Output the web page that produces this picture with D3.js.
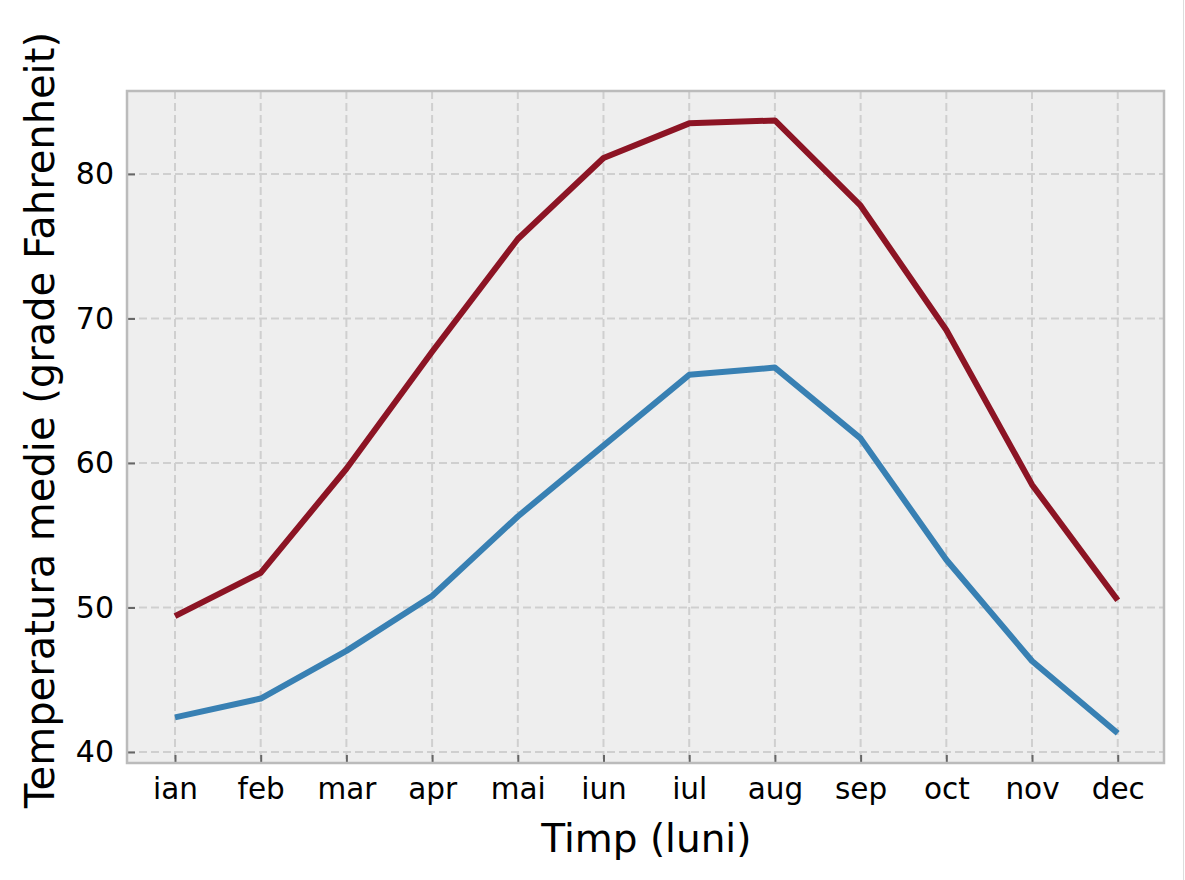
<!DOCTYPE html>
<html>
<head>
<meta charset="utf-8">
<script src="https://cdn.jsdelivr.net/npm/d3@7"></script>
<style>
  body { margin: 0; background: #fff; }
  svg { display: block; font-family: 'DejaVu Sans', sans-serif; }
</style>
</head>
<body>
<svg width="1185" height="880"></svg>
<script>
const MONTHS = ['ian', 'feb', 'mar', 'apr', 'mai', 'iun', 'iul', 'aug', 'sep', 'oct', 'nov', 'dec'];
const HIGH_TEMPS = [49.4, 52.4, 59.6, 67.7, 75.5, 81.1, 83.5, 83.7, 77.8, 69.2, 58.5, 50.5];
const LOW_TEMPS = [42.4, 43.7, 47.0, 50.8, 56.3, 61.2, 66.1, 66.6, 61.7, 53.3, 46.3, 41.3];
const Y_TICKS = [40, 50, 60, 70, 80];

const svg = d3.select('svg');
const margin = { top: 91, right: 21, bottom: 117, left: 127 };
const width = +svg.attr('width') - margin.left - margin.right;
const height = +svg.attr('height') - margin.top - margin.bottom;
const g = svg.append('g').attr('transform', `translate(${margin.left},${margin.top})`);

const x = d3.scaleLinear()
    .domain([-0.56, MONTHS.length - 1 + 0.54])
    .range([0, width]);

const y = d3.scaleLinear()
    .domain([39.24, 85.74])
    .range([height, 0]);

// plot background
g.append('rect')
    .attr('width', width)
    .attr('height', height)
    .attr('fill', '#eeeeee');

// grid
g.append('g')
  .selectAll('line')
  .data(MONTHS.map((d, i) => i))
  .enter().append('line')
    .attr('x1', d => x(d)).attr('x2', d => x(d))
    .attr('y1', 0).attr('y2', height)
    .attr('stroke', '#cfcfcf')
    .attr('stroke-width', 2)
    .attr('stroke-dasharray', '8,4');

g.append('g')
  .selectAll('line')
  .data(Y_TICKS)
  .enter().append('line')
    .attr('x1', 0).attr('x2', width)
    .attr('y1', d => y(d)).attr('y2', d => y(d))
    .attr('stroke', '#cfcfcf')
    .attr('stroke-width', 2)
    .attr('stroke-dasharray', '8,4');

// lines
const line = d3.line()
    .x((d, i) => x(i))
    .y(d => y(d));

g.append('path')
    .datum(HIGH_TEMPS)
    .attr('fill', 'none')
    .attr('stroke', '#8c1424')
    .attr('stroke-width', 6)
    .attr('stroke-linejoin', 'round')
    .attr('d', line);

g.append('path')
    .datum(LOW_TEMPS)
    .attr('fill', 'none')
    .attr('stroke', '#3880b3')
    .attr('stroke-width', 6)
    .attr('stroke-linejoin', 'round')
    .attr('d', line);

// x axis (ticks inside)
const xAxis = g.append('g')
    .attr('transform', `translate(0,${height})`)
    .call(d3.axisBottom(x)
      .tickValues(MONTHS.map((d, i) => i))
      .tickFormat(i => MONTHS[i])
      .tickSizeInner(-8)
      .tickSizeOuter(0)
      .tickPadding(15));
xAxis.select('.domain').remove();
xAxis.selectAll('line').attr('stroke', '#666').attr('stroke-width', 2);
xAxis.selectAll('text')
    .attr('font-size', 29.5)
    .attr('fill', '#000')
    .attr('font-family', 'DejaVu Sans');

// y axis
const yAxis = g.append('g')
    .call(d3.axisLeft(y)
      .tickValues(Y_TICKS)
      .tickSizeInner(-8)
      .tickSizeOuter(0)
      .tickPadding(13));
yAxis.select('.domain').remove();
yAxis.selectAll('line').attr('stroke', '#666').attr('stroke-width', 2);
yAxis.selectAll('text')
    .attr('font-size', 30)
    .attr('fill', '#000')
    .attr('font-family', 'DejaVu Sans');

// frame
g.append('rect')
    .attr('width', width)
    .attr('height', height)
    .attr('fill', 'none')
    .attr('stroke', '#bbbbbb')
    .attr('stroke-width', 2.5);

// axis titles
svg.append('text')
    .attr('x', margin.left + x((MONTHS.length - 1) / 2))
    .attr('y', 852)
    .attr('text-anchor', 'middle')
    .attr('font-size', 39)
    .attr('fill', '#000')
    .text('Timp (luni)');

svg.append('text')
    .attr('transform', `translate(54,${margin.top + height / 2 - 7})rotate(-90)`)
    .attr('text-anchor', 'middle')
    .attr('font-size', 40)
    .attr('fill', '#000')
    .text('Temperatura medie (grade Fahrenheit)');

// thin right image border
svg.append('line')
    .attr('x1', 1183.5).attr('x2', 1183.5)
    .attr('y1', 0).attr('y2', 880)
    .attr('stroke', '#dddddd')
    .attr('stroke-width', 1);
</script>
</body>
</html>
